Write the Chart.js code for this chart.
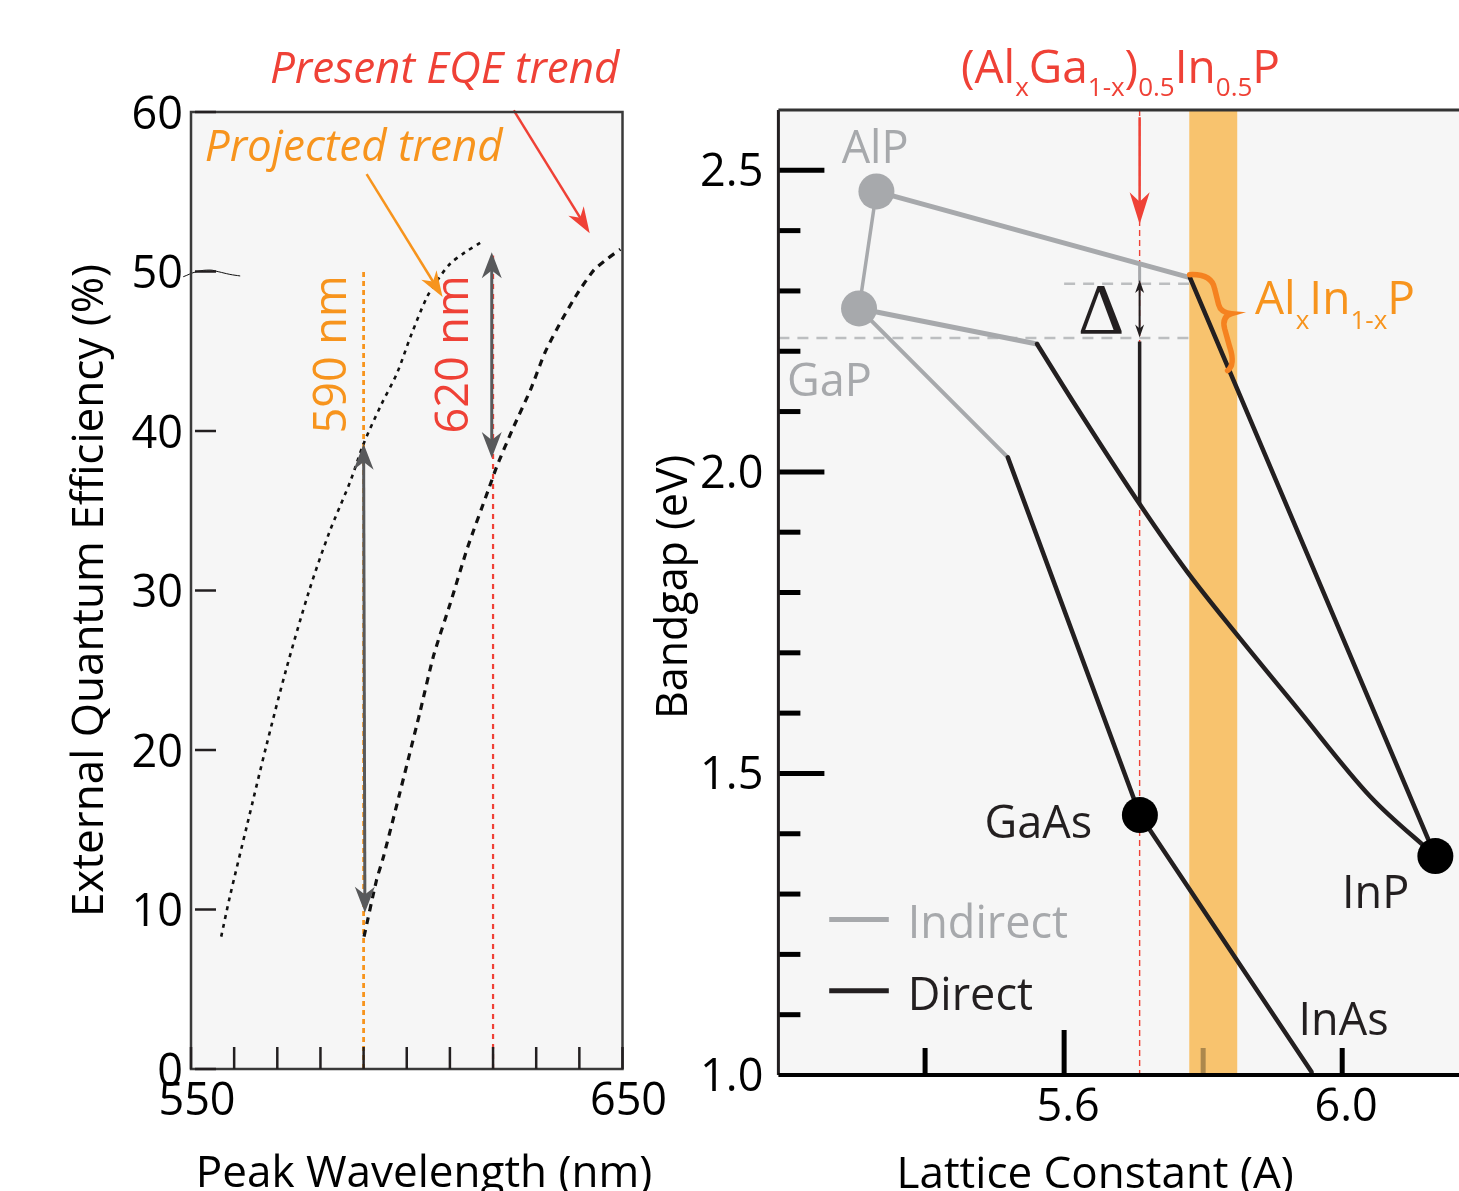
<!DOCTYPE html>
<html><head><meta charset="utf-8">
<script src="https://cdn.jsdelivr.net/npm/chart.js@4/dist/chart.umd.min.js"></script>
<style>
html,body{margin:0;padding:0;background:#fff;overflow:hidden;width:1459px;height:1191px}
#w1{position:absolute;left:0;top:0;width:680px;height:1191px}
#w2{position:absolute;left:630px;top:0;width:829px;height:1191px}
</style></head><body>
<div id="w1"><canvas id="c1" width="680" height="1191"></canvas></div>
<div id="w2"><canvas id="c2" width="829" height="1191"></canvas></div>
<script>
// ================= LEFT PANEL DATA =================
const wlTicks = [550,560,570,580,590,600,610,620,630,640,650];
const wlTickLabels = ['550','','','','','','','','','','650'];
const eqeTicks = [0,10,20,30,40,50,60];
// Projected trend (fine dotted)
const projWl  = [557.0, 559.0, 563.0, 567.4, 572.0, 577.4, 582.0, 587.0, 590.0, 594.0, 597.7, 601.0, 604.7, 607.5, 610.1, 613.5, 617.0];
const projEqe = [8.3,   10.8,  15.3,  20.2,  25.0,  30.0,  33.6,  36.9,  39.2,  41.6,  43.6,  46.0,  48.4,  49.6,  50.5,  51.2,  51.8];
// Present EQE trend (dashed)
const presWl  = [590.1, 593.0, 594.6, 598.2, 603.0, 606.2, 610.1, 614.1, 618.9, 620.9, 624.5, 628.7, 632.0, 635.6, 639.5, 643.4, 646.5, 649.5];
const presEqe = [8.3,   11.85, 13.3,  17.1,  22.3,  25.9,  29.2,  32.7,  36.3,  37.8,  40.1,  42.6,  44.9,  46.8,  48.6,  50.1,  50.8,  51.4];
// small stray mark near the 50 tick
const markWl  = [548.2, 551.3, 554.4, 556.3, 559.0, 561.4];
const markEqe = [49.67, 49.99, 50.09, 49.99, 49.82, 49.72];
// vertical reference lines
const markerWl  = [590, 620];
const markerTop = [50, 51];
// double arrows (gray)
const dArrowX1 = [590.0, 619.7], dArrowY1 = [39.2, 51.2];
const dArrowX2 = [590.3, 619.7], dArrowY2 = [9.8, 38.3];
// annotation arrows
const annArrowX1 = [590.7, 624.8], annArrowY1 = [56.1, 60.1];
const annArrowX2 = [608.3, 642.4], annArrowY2 = [48.4, 52.4];

// ================= RIGHT PANEL DATA =================
const latTicks = [5.4, 5.6, 5.8, 6.0];
const latTickLabels = ['', '5.6', '', '6.0'];
const latMajor = [5.6], latMinor = [5.4, 5.8, 6.0];
const egTicks = [1.0, 1.5, 2.0, 2.5];
const egMajor = [1.5, 2.0, 2.5];
const egMinor = [1.1, 1.2, 1.3, 1.4, 1.6, 1.7, 1.8, 1.9, 2.1, 2.2, 2.3, 2.4];
// binary compounds
const grayPtsA = [5.330, 5.305], grayPtsE = [2.465, 2.271];   // AlP, GaP
const blackPtsA = [5.709, 6.134], blackPtsE = [1.431, 1.363]; // GaAs, InP
// indirect branches
const indAlInA = [5.330, 5.781], indAlInE = [2.465, 2.322];
const indAlGaA = [5.330, 5.305], indAlGaE = [2.465, 2.271];
const indGaInA = [5.305, 5.561], indGaInE = [2.271, 2.212];
const indGaAsA = [5.305, 5.519], indGaAsE = [2.271, 2.024];
// direct branches
const dirAlInA = [5.781, 6.134], dirAlInE = [2.322, 1.363];
const dirGaInA = [5.561, 5.612, 5.712, 5.776, 5.848, 5.934, 6.041, 6.134];
const dirGaInE = [2.212, 2.118, 1.941, 1.836, 1.731, 1.610, 1.461, 1.363];
const dirGaAsA = [5.519, 5.709, 5.956], dirGaAsE = [2.024, 1.431, 1.005];
// lattice-matched band (AlInP) and composition line
const bandA = [5.780, 5.849];
const compA = 5.7086;
const deltaTop = 2.318, deltaBot = 2.2228, deltaLow = 1.947;
const dashE = [2.312, 2.2218], dashStartA = [5.60, 5.189];

const FONT = '"Open Sans", sans-serif';
const C_BLACK = '#231f20', C_GRAY = '#a7a9ac', C_RED = '#ef4136', C_ORANGE = '#f7941d',
      C_BRACE = '#f58220', C_ARROW = '#58595b', C_BG = '#f6f6f6', C_BAND = '#f8c36e';

function xy(xs, ys){ return xs.map((x,i)=>({x, y:ys[i]})); }

function drawHead(ctx, fx, fy, tx, ty, len, wid, color){
  const a = Math.atan2(ty-fy, tx-fx);
  ctx.save(); ctx.translate(tx,ty); ctx.rotate(a);
  ctx.beginPath(); ctx.moveTo(0,0); ctx.lineTo(-len,-wid/2); ctx.lineTo(-len*0.7,0); ctx.lineTo(-len,wid/2); ctx.closePath();
  ctx.fillStyle=color; ctx.fill(); ctx.restore();
}
function drawArrow(ctx, p1, p2, o){
  const dx=p2[0]-p1[0], dy=p2[1]-p1[1], L=Math.hypot(dx,dy), ux=dx/L, uy=dy/L;
  const back = o.len*0.6;
  const s = o.both ? [p1[0]+ux*back, p1[1]+uy*back] : p1;
  const e = [p2[0]-ux*back, p2[1]-uy*back];
  ctx.save(); ctx.strokeStyle=o.color; ctx.lineWidth=o.width; ctx.setLineDash([]);
  ctx.beginPath(); ctx.moveTo(s[0],s[1]); ctx.lineTo(e[0],e[1]); ctx.stroke(); ctx.restore();
  drawHead(ctx, p1[0],p1[1],p2[0],p2[1],o.len,o.wid,o.color);
  if(o.both) drawHead(ctx,p2[0],p2[1],p1[0],p1[1],o.len,o.wid,o.color);
}
function drawText(ctx, t, x, y, o){
  ctx.save();
  ctx.font = o.font; ctx.fillStyle = o.color; ctx.textAlign = o.align||'left'; ctx.textBaseline = o.base||'alphabetic';
  ctx.translate(x,y); if(o.rot) ctx.rotate(o.rot);
  ctx.fillText(t,0,0); ctx.restore();
}
function drawRich(ctx, parts, x, y, color, big, small, dy, align){
  ctx.save(); ctx.fillStyle=color; ctx.textBaseline='alphabetic'; ctx.textAlign='left';
  let w=0;
  parts.forEach(p=>{ ctx.font = (p[1]?small:big)+'px '+FONT; w += ctx.measureText(p[0]).width; });
  let cx = align==='center' ? x - w/2 : x;
  parts.forEach(p=>{ ctx.font = (p[1]?small:big)+'px '+FONT; ctx.fillText(p[0], cx, p[1]? y+dy : y); cx += ctx.measureText(p[0]).width; });
  ctx.restore();
}
function vline(ctx, x, y0, y1, color, w, dash){
  ctx.save(); ctx.strokeStyle=color; ctx.lineWidth=w; ctx.setLineDash(dash||[]);
  ctx.beginPath(); ctx.moveTo(x,y0); ctx.lineTo(x,y1); ctx.stroke(); ctx.restore();
}
function hline(ctx, y, x0, x1, color, w, dash){
  ctx.save(); ctx.strokeStyle=color; ctx.lineWidth=w; ctx.setLineDash(dash||[]);
  ctx.beginPath(); ctx.moveTo(x0,y); ctx.lineTo(x1,y); ctx.stroke(); ctx.restore();
}
function noPadX(s, h){ s.height = h; s.paddingLeft = 0; s.paddingRight = 0; }
function noPadY(s, w){ s.width = w; s.paddingTop = 0; s.paddingBottom = 0; }

// ================= LEFT CHART =================
const leftDeco = {
  id:'leftDeco',
  beforeDraw(chart){
    const {ctx, chartArea:a} = chart;
    ctx.save(); ctx.fillStyle=C_BG; ctx.fillRect(a.left,a.top,a.right-a.left,a.bottom-a.top); ctx.restore();
  },
  beforeDatasetsDraw(chart){
    const ctx=chart.ctx, X=chart.scales.x, Y=chart.scales.y;
    const mc=[C_ORANGE, C_RED], mw=[2.8, 2.2], md=[[5,4],[5,5]];
    markerWl.forEach((w,i)=> vline(ctx, X.getPixelForValue(w), Y.getPixelForValue(0), Y.getPixelForValue(markerTop[i]), mc[i], mw[i], md[i]));
  },
  afterDatasetsDraw(chart){
    const ctx=chart.ctx, X=chart.scales.x, Y=chart.scales.y;
    const P=(x,y)=>[X.getPixelForValue(x), Y.getPixelForValue(y)];
    dArrowX1.forEach((x,i)=> drawArrow(ctx, P(x,dArrowY1[i]), P(dArrowX2[i],dArrowY2[i]), {color:C_ARROW,width:3,len:26,wid:20,both:true}));
    const ac=[C_ORANGE, C_RED];
    annArrowX1.forEach((x,i)=> drawArrow(ctx, P(x,annArrowY1[i]), P(annArrowX2[i],annArrowY2[i]), {color:ac[i],width:2.5,len:26,wid:18}));
    let p = P(553.2, 56.9); drawText(ctx,'Projected trend',p[0],p[1],{font:'italic 44px '+FONT,color:C_ORANGE});
    p = P(568.3, 61.8); drawText(ctx,'Present EQE trend',p[0],p[1],{font:'italic 44px '+FONT,color:C_RED});
    p = P(582.9, 44.8); drawText(ctx,'590 nm',p[0],p[1],{font:'45px '+FONT,color:C_ORANGE,align:'center',base:'middle',rot:-Math.PI/2});
    p = P(611.3, 44.8); drawText(ctx,'620 nm',p[0],p[1],{font:'45px '+FONT,color:C_RED,align:'center',base:'middle',rot:-Math.PI/2});
  },
  afterDraw(chart){
    const ctx=chart.ctx, X=chart.scales.x, Y=chart.scales.y, a=chart.chartArea;
    ctx.save(); ctx.strokeStyle='#3a3a3a'; ctx.lineWidth=2.5; ctx.strokeRect(a.left,a.top,a.right-a.left,a.bottom-a.top); ctx.restore();
    wlTicks.forEach(v=> vline(ctx, X.getPixelForValue(v), a.bottom, a.bottom-22, C_BLACK, 2.5));
    eqeTicks.forEach(v=> hline(ctx, Y.getPixelForValue(v), a.left+4, a.left+25, C_BLACK, 2.5));
    drawText(ctx,'Peak Wavelength (nm)', X.getPixelForValue(604.0), a.bottom+118, {font:'44px '+FONT,color:'#000',align:'center'});
  }
};

new Chart(document.getElementById('c1'), {
  type:'scatter',
  data:{datasets:[
    {label:'Projected trend', data:xy(projWl,projEqe), showLine:true, borderColor:'#111', borderWidth:2.6, borderDash:[4,5], pointRadius:0, tension:0.3},
    {label:'Present EQE trend', data:xy(presWl,presEqe), showLine:true, borderColor:'#111', borderWidth:3.2, borderDash:[7,6], pointRadius:0, tension:0.2},
    {label:'mark', data:xy(markWl,markEqe), showLine:true, borderColor:'#111', borderWidth:1, pointRadius:0, tension:0.4, clip:false}
  ]},
  options:{
    responsive:false, animation:false, devicePixelRatio:1,
    layout:{autoPadding:false, padding:{left:0, top:112, right:57.5, bottom:0}},
    plugins:{legend:{display:false}, tooltip:{enabled:false}},
    scales:{
      x:{type:'linear', min:550, max:650,
        afterBuildTicks:s=>{ s.ticks = wlTicks.map(v=>({value:v})); },
        afterFit:s=>noPadX(s,122),
        grid:{display:false, drawTicks:false}, border:{display:false},
        ticks:{padding:6, labelOffset:6, autoSkip:false, maxRotation:0, color:'#000', font:{family:FONT,size:45}, callback:(v,i)=>wlTickLabels[i]}
      },
      y:{type:'linear', min:0, max:60,
        afterBuildTicks:s=>{ s.ticks = eqeTicks.map(v=>({value:v})); },
        afterFit:s=>noPadY(s,191),
        grid:{display:false, drawTicks:false}, border:{display:false},
        ticks:{padding:8, labelOffset:4, color:'#000', font:{family:FONT,size:45}, callback:v=>String(v)},
        title:{display:true, text:'External Quantum Efficiency (%)', color:'#000', font:{family:FONT,size:44}, padding:{top:64,bottom:0}}
      }
    }
  },
  plugins:[leftDeco]
});

// ================= RIGHT CHART =================
const rightLabels = [
  {t:'AlP',  x:5.280,  y:2.5126, c:C_GRAY,  a:'left'},
  {t:'GaP',  x:5.2014, y:2.1262, c:C_GRAY,  a:'left'},
  {t:'GaAs', x:5.6403, y:1.3925, c:C_BLACK, a:'right'},
  {t:'InP',  x:5.9997, y:1.2766, c:C_BLACK, a:'left'},
  {t:'InAs', x:5.9372, y:1.0662, c:C_BLACK, a:'left'}
];
const legendNames = ['Indirect','Direct'];
const legendColors = [C_GRAY, C_BLACK];
const legendLineE = [1.2579, 1.1396], legendTextE = [1.2269, 1.1077];
const legendLineA = [5.2621, 5.3478], legendTextA = 5.375;

const rightDeco = {
  id:'rightDeco',
  beforeDraw(chart){
    const {ctx, chartArea:a} = chart;
    ctx.save(); ctx.fillStyle=C_BG; ctx.fillRect(a.left,a.top,a.right-a.left,a.bottom-a.top); ctx.restore();
  },
  beforeDatasetsDraw(chart){
    const ctx=chart.ctx, X=chart.scales.x, Y=chart.scales.y, a=chart.chartArea;
    const b0=X.getPixelForValue(bandA[0]), b1=X.getPixelForValue(bandA[1]);
    ctx.save(); ctx.fillStyle=C_BAND; ctx.fillRect(b0, a.top, b1-b0, a.bottom-a.top); ctx.restore();
    dashE.forEach((e,i)=> hline(ctx, Y.getPixelForValue(e), X.getPixelForValue(dashStartA[i]), b0, '#bcbec0', 2.5, [11,8]));
    const cx = X.getPixelForValue(compA);
    vline(ctx, cx, a.top, a.bottom, C_RED, 1.4, [6,4]);
  },
  afterDatasetsDraw(chart){
    const ctx=chart.ctx, X=chart.scales.x, Y=chart.scales.y;
    const P=(x,y)=>[X.getPixelForValue(x), Y.getPixelForValue(y)];
    const cx = X.getPixelForValue(compA);
    drawArrow(ctx, P(compA,2.588), P(compA,2.4106), {color:C_RED,width:2.5,len:32,wid:20});
    vline(ctx, cx, Y.getPixelForValue(2.347), Y.getPixelForValue(deltaTop)+2, C_GRAY, 3);
    drawArrow(ctx, P(compA,deltaTop), P(compA,deltaBot), {color:C_BLACK,width:2,len:13,wid:9,both:true});
    vline(ctx, cx, Y.getPixelForValue(deltaBot)+4, Y.getPixelForValue(deltaLow), C_BLACK, 3.5);
    let p = P(5.6532, 2.2306);
    drawText(ctx,'\u0394',p[0],p[1],{font:'72px "Liberation Serif", serif',color:C_BLACK,align:'center'});
    const s = P(5.7805, 2.322);
    ctx.save(); ctx.translate(s[0], s[1]-3); ctx.strokeStyle=C_BRACE; ctx.lineWidth=5.5; ctx.lineCap='round';
    ctx.beginPath(); ctx.moveTo(0,0);
    ctx.quadraticCurveTo(22,-1, 25,14); ctx.lineTo(29,30);
    ctx.quadraticCurveTo(31,38, 42,39);
    ctx.quadraticCurveTo(32,42, 35,54); ctx.lineTo(40,72);
    ctx.quadraticCurveTo(46,90, 38,96);
    ctx.stroke(); ctx.restore();
    rightLabels.forEach(l=>{ const q=P(l.x,l.y); drawText(ctx,l.t,q[0],q[1],{font:'45px '+FONT,color:l.c,align:l.a}); });
    p = P(5.4515, 2.645);
    drawRich(ctx, [['(Al',0],['x',1],['Ga',0],['1-x',1],[')',0],['0.5',1],['In',0],['0.5',1],['P',0]], p[0], p[1], C_RED, 46, 26, 13.5, 'left');
    p = P(5.8746, 2.2615);
    drawRich(ctx, [['Al',0],['x',1],['In',0],['1-x',1],['P',0]], p[0], p[1], C_ORANGE, 46, 26, 15, 'left');
    legendNames.forEach((n,i)=>{
      const y = Y.getPixelForValue(legendLineE[i]);
      hline(ctx, y, X.getPixelForValue(legendLineA[0]), X.getPixelForValue(legendLineA[1]), legendColors[i], 5);
      const q = P(legendTextA, legendTextE[i]);
      drawText(ctx, n, q[0], q[1], {font:'45px '+FONT, color:legendColors[i]});
    });
  },
  afterDraw(chart){
    const ctx=chart.ctx, X=chart.scales.x, Y=chart.scales.y, a=chart.chartArea;
    egMajor.forEach(v=> hline(ctx, Y.getPixelForValue(v), a.left, a.left+46, '#000', 5));
    egMinor.forEach(v=> hline(ctx, Y.getPixelForValue(v), a.left, a.left+22, '#000', 5));
    latMajor.forEach(v=> vline(ctx, X.getPixelForValue(v), a.bottom, a.bottom-45, '#000', 5));
    latMinor.forEach(v=>{ ctx.save(); ctx.globalAlpha = (v>bandA[0] && v<bandA[1]) ? 0.3 : 1; vline(ctx, X.getPixelForValue(v), a.bottom, a.bottom-27, '#000', 5); ctx.restore(); });
    vline(ctx, a.left, a.top, a.bottom, C_BLACK, 3);
    hline(ctx, a.top, a.left, a.right, '#333', 3);
    hline(ctx, a.bottom, a.left, a.right, '#000', 4);
    drawText(ctx,'Lattice Constant (A)', X.getPixelForValue(5.6446), a.bottom+113, {font:'44px '+FONT,color:'#000',align:'center'});
  }
};

const lineDs = (xs, ys, color, w, smooth) => ({data:xy(xs,ys), showLine:true, borderColor:color, borderWidth:w, pointRadius:0,
  tension: smooth ? 0.4 : 0, cubicInterpolationMode: smooth ? 'monotone' : 'default', borderCapStyle:'round', clip:false});

new Chart(document.getElementById('c2'), {
  type:'scatter',
  data:{datasets:[
    {label:'direct binaries', data:xy(blackPtsA,blackPtsE), pointRadius:18, pointBackgroundColor:'#000', pointBorderWidth:0, showLine:false, clip:false},
    {label:'indirect binaries', data:xy(grayPtsA,grayPtsE), pointRadius:18, pointBackgroundColor:C_GRAY, pointBorderWidth:0, showLine:false, clip:false},
    lineDs(dirAlInA, dirAlInE, C_BLACK, 4.5),
    lineDs(dirGaInA, dirGaInE, C_BLACK, 4.5, true),
    lineDs(dirGaAsA, dirGaAsE, C_BLACK, 4.5),
    lineDs(indAlInA, indAlInE, C_GRAY, 5),
    lineDs(indAlGaA, indAlGaE, C_GRAY, 3.5),
    lineDs(indGaInA, indGaInE, C_GRAY, 5),
    lineDs(indGaAsA, indGaAsE, C_GRAY, 4)
  ]},
  options:{
    responsive:false, animation:false, devicePixelRatio:1,
    layout:{autoPadding:false, padding:{left:0, top:110, right:0, bottom:0}},
    plugins:{legend:{display:false}, tooltip:{enabled:false}},
    scales:{
      x:{type:'linear', min:5.189, max:6.168,
        afterBuildTicks:s=>{ s.ticks = latTicks.map(v=>({value:v})); },
        afterFit:s=>noPadX(s,116),
        grid:{display:false, drawTicks:false}, border:{display:false},
        ticks:{padding:6, labelOffset:4, autoSkip:false, maxRotation:0, color:'#000', font:{family:FONT,size:45}, callback:(v,i)=>latTickLabels[i]}
      },
      y:{type:'linear', min:1.0, max:2.6,
        afterBuildTicks:s=>{ s.ticks = egTicks.map(v=>({value:v})); },
        afterFit:s=>noPadY(s,148.4),
        grid:{display:false, drawTicks:false}, border:{display:false},
        ticks:{padding:15, labelOffset:3, color:'#000', font:{family:FONT,size:45}, callback:v=>v.toFixed(1)},
        title:{display:true, text:'\u00a0Bandgap (eV)', color:'#000', font:{family:FONT,size:43}, padding:{top:19,bottom:0}}
      }
    }
  },
  plugins:[rightDeco]
});
</script>
</body></html>
